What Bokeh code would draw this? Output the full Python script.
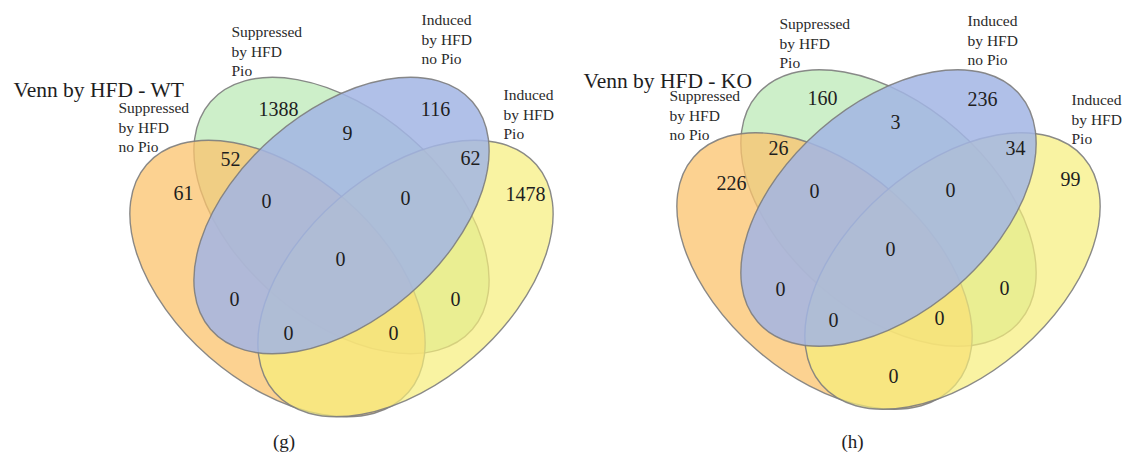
import math
from bokeh.plotting import figure
from bokeh.models import Range1d
from bokeh.embed import file_html
from bokeh.resources import INLINE
from bokeh.core.properties import value

# ---------------- data ----------------
set_names = ["Suppressed\nby HFD\nno Pio", "Suppressed\nby HFD\nPio",
             "Induced\nby HFD\nno Pio", "Induced\nby HFD\nPio"]
set_colors = ["#FBC36C", "#B8E8B2", "#A2B5E4", "#F6EE7A"]
set_alpha = [0.75, 0.7, 0.85, 0.7]
titles = ["Venn by HFD - WT", "Venn by HFD - KO"]
panel_tags = ["(g)", "(h)"]
# regions: A=orange, B=green, C=blue, D=yellow
region_keys = ["A", "B", "C", "D", "AB", "BC", "CD", "ABC", "BCD", "ABCD",
               "AC", "BD", "ACD", "ABD", "AD"]
counts_wt = [61, 1388, 116, 1478, 52, 9, 62, 0, 0, 0, 0, 0, 0, 0, None]
counts_ko = [226, 160, 236, 99, 26, 3, 34, 0, 0, 0, 0, 0, 0, 0, 0]
panel_counts = [counts_wt, counts_ko]

# ---------------- layout (screen pixels) ----------------
PAGE_W, PAGE_H = 1124, 453
def Y(py):
    return PAGE_H - py

panel_center = [(341, 215), (888, 207.5)]
ell_a, ell_b, ell_ang = 173.5, 104, 41
# per set: offset from centre (dx, dy screen), angle sign
set_offsets = [(-64, 63, -1), (0, 0, -1), (0, 0, 1), (64, 63, 1)]
draw_order = [1, 0, 3, 2]

region_pos = [
    [(183, 192), (278, 108), (435, 108), (525, 193), (230, 158), (347, 132),
     (470, 157), (266, 200), (405, 197), (340, 258), (234, 298), (455, 298),
     (288, 332), (393, 332), (340, 383)],
    [(731, 182), (822, 97), (982, 98), (1070, 178), (778, 147), (895, 121),
     (1015, 147), (814, 190), (950, 189), (890, 248), (780, 288), (1004, 287),
     (833, 319), (939, 317), (893, 375)],
]
label_pos = [
    [(118, 107), (231, 31), (421, 19), (503, 94)],
    [(669, 95), (779, 23), (967, 20), (1071, 99)],
]
title_pos = [(13, 89), (583, 80)]
tag_pos = [(283.5, 441), (852, 441)]
LINE_GAP = 19.5

SERIF = value("Liberation Serif")

p = figure(width=PAGE_W, height=PAGE_H, x_range=Range1d(0, PAGE_W),
           y_range=Range1d(0, PAGE_H),
           output_backend="svg", toolbar_location=None, min_border=0)
p.axis.visible = False
p.grid.visible = False
p.outline_line_color = None
p.background_fill_color = "white"
p.border_fill_color = "white"

for k in range(2):
    cx, cy = panel_center[k]
    for s in draw_order:
        dx, dy, sgn = set_offsets[s]
        p.ellipse(x=[cx + dx], y=[Y(cy + dy)], width=2 * ell_a, height=2 * ell_b,
                  angle=sgn * ell_ang, angle_units="deg",
                  fill_color=set_colors[s], fill_alpha=set_alpha[s],
                  line_color="#7d7d7d", line_alpha=0.9, line_width=1.4)

    xs, ys, ts = [], [], []
    for (px, py), c in zip(region_pos[k], panel_counts[k]):
        if c is None:
            continue
        xs.append(px); ys.append(Y(py)); ts.append(str(c))
    p.text(x=xs, y=ys, text=ts, text_font=SERIF, text_font_size="20px",
           text_align="center", text_baseline="middle", text_color="#1e1e1e")

    lx, ly, lt = [], [], []
    for (px, py), name in zip(label_pos[k], set_names):
        for i, line in enumerate(name.split("\n")):
            lx.append(px); ly.append(Y(py + i * LINE_GAP)); lt.append(line)
    p.text(x=lx, y=ly, text=lt, text_font=SERIF, text_font_size="15.5px",
           text_align="left", text_baseline="middle", text_color="#2a2a2a")

    p.text(x=[title_pos[k][0]], y=[Y(title_pos[k][1])], text=[titles[k]],
           text_font=SERIF, text_font_size="21.5px", text_align="left",
           text_baseline="alphabetic", text_color="#1e1e1e")
    p.text(x=[tag_pos[k][0]], y=[Y(tag_pos[k][1])], text=[panel_tags[k]],
           text_font=SERIF, text_font_size="19px", text_align="center",
           text_baseline="middle", text_color="#1e1e1e")

open("out.html", "w").write(file_html(p, INLINE))
